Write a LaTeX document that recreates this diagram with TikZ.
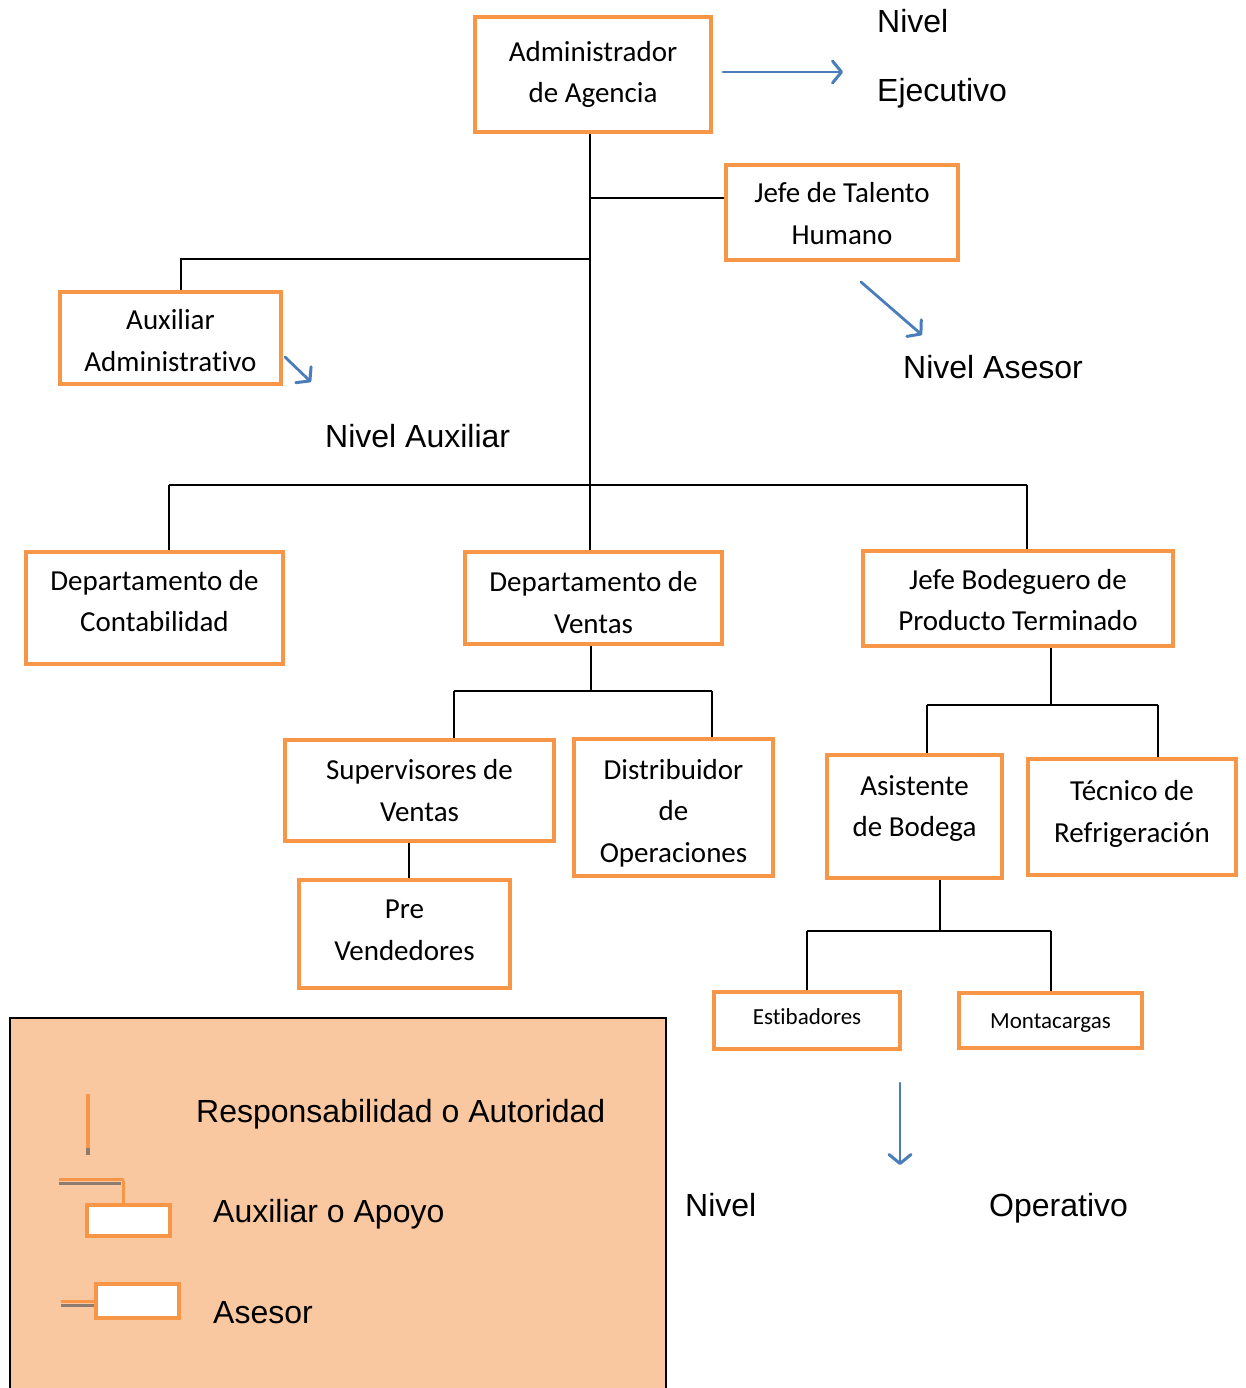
\documentclass[tikz,border=0pt]{standalone}
\usepackage{fontspec}
\setmainfont{Carlito}[Ligatures=NoCommon]
\newfontfamily\arialf{Liberation Sans}
\usetikzlibrary{arrows.meta}
\definecolor{org}{HTML}{F79646}
\definecolor{blu}{HTML}{4A7EBB}
\definecolor{peach}{HTML}{FAC8A0}
\definecolor{gry}{HTML}{8C7B6E}
\newcommand{\mvtxt}[2]{\raisebox{#1}[\height][\depth]{\begin{tabular}{@{}c@{}}#2\end{tabular}}}
\begin{document}
\begin{tikzpicture}[x=1pt,y=-1pt,
 box/.style={draw=org,line width=4pt,rectangle,inner sep=0pt,align=center,font=\fontsize{29}{41.5}\selectfont},
 smallbox/.style={box,font=\fontsize{23}{28}\selectfont},
 conn/.style={line width=2pt,black},
 arr/.style={draw=blu,line width=2.8pt,line cap=round,-{Straight Barb[length=9pt,width=22pt,line width=3pt,round]}},
 lvl/.style={font=\arialf\fontsize{32}{36}\selectfont,anchor=base west,inner sep=0pt},
 legline/.style={line width=3pt},
 legbox/.style={draw=org,fill=white,line width=4pt,inner sep=0pt}]
\useasboundingbox (0,0) rectangle (1246,1388);

% boxes
\node[box,minimum width=236pt,minimum height=115pt] (admin) at (593,74.5) {Administrador\\de Agencia};
\node[box,minimum width=232pt,minimum height=95pt] (tal) at (842,212.5) {\mvtxt{-2.5pt}{Jefe de Talento\\Humano}};
\node[box,minimum width=221pt,minimum height=92pt] (aux) at (170.5,338) {\mvtxt{-4pt}{Auxiliar\\Administrativo}};
\node[box,minimum width=257pt,minimum height=112pt] (cont) at (154.5,608) {\mvtxt{5.5pt}{Departamento de\\Contabilidad}};
\node[box,minimum width=257pt,minimum height=92pt] (vent) at (593.5,598) {\mvtxt{-6pt}{Departamento de\\Ventas}};
\node[box,minimum width=310pt,minimum height=95pt] (bod) at (1018,598.5) {\mvtxt{-3pt}{Jefe Bodeguero de\\Producto Terminado}};
\node[box,minimum width=269pt,minimum height=101pt] (sup) at (419.5,790.5) {Supervisores de\\Ventas};
\node[box,minimum width=199pt,minimum height=137pt] (dist) at (673.5,807.5) {\mvtxt{-5pt}{Distribuidor\\de\\Operaciones}};
\node[box,minimum width=211pt,minimum height=108pt] (pre) at (404.5,934) {\mvtxt{3pt}{Pre\\Vendedores}};
\node[box,minimum width=175pt,minimum height=123pt] (asis) at (914.5,816.5) {\mvtxt{9pt}{Asistente\\de Bodega}};
\node[box,minimum width=208pt,minimum height=116pt] (tec) at (1132,817) {\mvtxt{4pt}{Técnico de\\Refrigeración}};
\node[smallbox,minimum width=186pt,minimum height=57pt] (esti) at (807,1020.5) {\mvtxt{2pt}{Estibadores}};
\node[smallbox,minimum width=183pt,minimum height=55pt] (mont) at (1050.5,1020.5) {\mvtxt{-2pt}{Montacargas}};

% junction coordinates
\coordinate (j1) at (590,198);
\coordinate (j2) at (590,259);
\coordinate (j3) at (590,485);
\coordinate (a1) at (181,259);
\coordinate (b1) at (169,485);
\coordinate (b2) at (1027,485);
\coordinate (v1) at (591,691);
\coordinate (v2) at (454,691);
\coordinate (v3) at (712,691);
\coordinate (s1) at (409,860);
\coordinate (k1) at (1051,705);
\coordinate (k2) at (927,705);
\coordinate (k3) at (1158,705);
\coordinate (m1) at (940,931);
\coordinate (m2) at (807,931);
\coordinate (m3) at (1051,931);

% connectors
\draw[conn] (admin.south -| j3) -- (j3);
\draw[conn] (j1) -- (j1 -| tal.west);
\draw[conn] (j2) -- (a1) -- (a1 |- aux.north);
\draw[conn] (b1) -- (b2);
\draw[conn] (b1) -- (b1 |- cont.north);
\draw[conn] (j3) -- (j3 |- vent.north);
\draw[conn] (b2) -- (b2 |- bod.north);
\draw[conn] (v1 |- vent.south) -- (v1);
\draw[conn] (v2) -- (v3);
\draw[conn] (v2) -- (v2 |- sup.north);
\draw[conn] (v3) -- (v3 |- dist.north);
\draw[conn] (s1 |- sup.south) -- (s1 |- pre.north);
\draw[conn] (k1 |- bod.south) -- (k1);
\draw[conn] (k2) -- (k3);
\draw[conn] (k2) -- (k2 |- asis.north);
\draw[conn] (k3) -- (k3 |- tec.north);
\draw[conn] (m1 |- asis.south) -- (m1);
\draw[conn] (m2) -- (m3);
\draw[conn] (m2) -- (m2 |- esti.north);
\draw[conn] (m3) -- (m3 |- mont.north);

% level arrows
\coordinate (e1) at (723,72);
\coordinate (e2) at (843,72);
\coordinate (c1) at (861,282);
\coordinate (c2) at (922,335);
\coordinate (d1) at (285,357);
\coordinate (d2) at (311,382);
\coordinate (o1) at (900,1083);
\coordinate (o2) at (900,1165);
\draw[arr] (e1) -- (e2);
\draw[arr] (c1) -- (c2);
\draw[arr] (d1) -- (d2);
\draw[arr] (o1) -- (o2);

% level labels
\node[lvl] (nivE) at (877,33) {Nivel};
\node[lvl] (ejec) at (877,102) {Ejecutivo};
\node[lvl] (nivA) at (903,378) {Nivel Asesor};
\node[lvl] (nivX) at (325,447) {Nivel Auxiliar};
\node[lvl] (nivO) at (685,1216) {Nivel};
\node[lvl] (oper) at (989,1216) {Operativo};

% legend
\draw[fill=peach,draw=black,line width=2pt] (10,1018) rectangle (666,1400);
\draw[gry,line width=4pt] (88,1147) -- (88,1155);
\draw[org,line width=4pt] (88,1094) -- (88,1148);
\draw[org,legline] (59,1179.5) -- (124,1179.5);
\draw[gry,legline] (59,1183.5) -- (121,1183.5);
\draw[org,legline] (123,1181) -- (123,1203);
\node[legbox,minimum width=83pt,minimum height=31pt] (lgA) at (128.5,1220.5) {};
\draw[org,legline] (61,1301.5) -- (94,1301.5);
\draw[gry,legline] (61,1305) -- (94,1305);
\node[legbox,minimum width=83pt,minimum height=34pt] (lgB) at (137.5,1301) {};
\node[lvl] (lt1) at (196,1122) {Responsabilidad o Autoridad};
\node[lvl] (lt2) at (213,1222) {Auxiliar o Apoyo};
\node[lvl] (lt3) at (213,1323) {Asesor};
\end{tikzpicture}
\end{document}
